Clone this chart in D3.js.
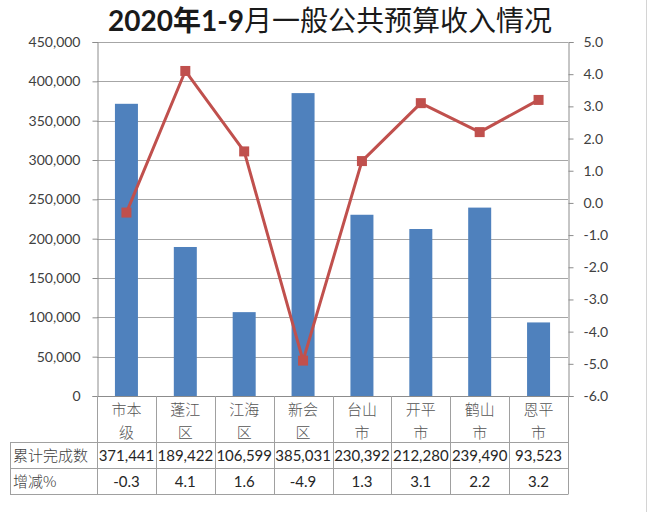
<!DOCTYPE html>
<html><head><meta charset="utf-8">
<script src="https://cdn.jsdelivr.net/npm/d3@7"></script>
<style>
body{margin:0;background:#fff;}
svg{display:block;font-family:Lato,"Noto Sans CJK SC",sans-serif;}
</style></head>
<body><svg id="c" width="650" height="512"></svg>
<script>
const categories = ["市本级","蓬江区","江海区","新会区","台山市","开平市","鹤山市","恩平市"];
const categoryLines = [["市本","级"],["蓬江","区"],["江海","区"],["新会","区"],["台山","市"],["开平","市"],["鹤山","市"],["恩平","市"]];
const revenue = [371441,189422,106599,385031,230392,212280,239490,93523];
const growth = [-0.3,4.1,1.6,-4.9,1.3,3.1,2.2,3.2];
const leftTicks = [0,50000,100000,150000,200000,250000,300000,350000,400000,450000];
const rightTicks = [-6,-5,-4,-3,-2,-1,0,1,2,3,4,5];
const rowLabels = ["累计完成数","增减%"];
const title = ["2020年1-9","月一般公共预算收入情况"];

const svg = d3.select("#c");
const L = 97, R = 568, T = 42, B = 396;
const x = d3.scaleBand().domain(categories).range([L, R]);
const y = d3.scaleLinear().domain([0, 450000]).range([B, T]);
const y2 = d3.scaleLinear().domain([-6, 5]).range([B, T]);
const grid = "#a6a6a6", axisC = "#8c8c8c", txt = "#404040";
const f1 = d => d3.format(".1f")(d).replace("\u2212","-");

// right frame line
svg.append("line").attr("x1",646.5).attr("x2",646.5).attr("y1",0).attr("y2",512).attr("stroke","#d4d4d4");

// title
const tt = svg.append("text").attr("x",330).attr("y",31).attr("text-anchor","middle")
  .attr("font-size",28).attr("fill","#1a1a1a");
tt.append("tspan").attr("font-weight","bold").text(title[0]);
tt.append("tspan").attr("font-weight","normal").text(title[1]);

// gridlines
svg.append("g").selectAll("line").data(leftTicks.filter(d=>d>0)).join("line")
  .attr("x1",L).attr("x2",R).attr("y1",d=>Math.round(y(d))+0.5).attr("y2",d=>Math.round(y(d))+0.5)
  .attr("stroke",grid).attr("stroke-width",1);

// left axis
const la = svg.append("g").attr("transform",`translate(${L+0.5},0)`)
  .call(d3.axisLeft(y).tickValues(leftTicks).tickFormat(d3.format(",")).tickSize(5).tickPadding(12));
la.select(".domain").attr("stroke",axisC);
la.selectAll(".tick line").attr("stroke",axisC);
la.selectAll("text").attr("font-size",14).attr("fill",txt).attr("font-family","Lato,sans-serif");

// right axis
const ra = svg.append("g").attr("transform",`translate(${R+0.5},0)`)
  .call(d3.axisRight(y2).tickValues(rightTicks).tickFormat(f1).tickSize(5).tickPadding(10));
ra.select(".domain").attr("stroke",axisC);
ra.selectAll(".tick line").attr("stroke",axisC);
ra.selectAll("text").attr("font-size",14).attr("fill",txt).attr("font-family","Lato,sans-serif");

// bars
const bw = 23;
svg.append("g").selectAll("rect").data(revenue).join("rect")
  .attr("x",(d,i)=>x(categories[i])+x.bandwidth()/2-bw/2)
  .attr("width",bw)
  .attr("y",d=>y(d)).attr("height",d=>B-y(d))
  .attr("fill","#4f81bd");

// zero axis line
svg.append("line").attr("x1",L-4).attr("x2",R+5).attr("y1",B+0.5).attr("y2",B+0.5).attr("stroke",axisC);

// line
const line = d3.line().x((d,i)=>x(categories[i])+x.bandwidth()/2).y(d=>y2(d));
svg.append("path").datum(growth).attr("d",line).attr("fill","none")
  .attr("stroke","#c0504d").attr("stroke-width",3).attr("stroke-linejoin","round");
svg.append("g").selectAll("rect").data(growth).join("rect")
  .attr("x",(d,i)=>x(categories[i])+x.bandwidth()/2-5)
  .attr("y",d=>y2(d)-5).attr("width",10).attr("height",10)
  .attr("fill","#c0504d");

// table
const tb = svg.append("g");
const r0 = B, r1 = 442, r2 = 468, r3 = 494, TL = 10;
const tc = "#a0a0a0";
[r1, r2, r3].forEach(yy=>{
  tb.append("line").attr("x1",TL).attr("x2",R).attr("y1",yy+0.5).attr("y2",yy+0.5).attr("stroke",tc);
});
tb.append("line").attr("x1",TL+0.5).attr("x2",TL+0.5).attr("y1",r1).attr("y2",r3+0.5).attr("stroke",tc);
const xs = categories.map(c=>x(c)).concat([R]);
xs.forEach(xx=>{
  tb.append("line").attr("x1",Math.round(xx)+0.5).attr("x2",Math.round(xx)+0.5).attr("y1",r0).attr("y2",r3+0.5).attr("stroke",tc);
});
categoryLines.forEach((ls,i)=>{
  const cx = x(categories[i])+x.bandwidth()/2;
  ls.forEach((s,j)=>{
    tb.append("text").attr("x",cx).attr("y",415+j*23).attr("text-anchor","middle")
      .attr("font-size",15).attr("fill","#555").attr("font-family","'Noto Sans CJK SC',sans-serif")
      .attr("font-weight",300).text(s);
  });
});
rowLabels.forEach((s,j)=>{
  tb.append("text").attr("x",13).attr("y",[461,487][j]).attr("font-size",15)
    .attr("fill","#404040").attr("font-family","'Noto Sans CJK SC',sans-serif").attr("font-weight",300).text(s);
});
revenue.forEach((v,i)=>{
  tb.append("text").attr("x",x(categories[i])+x.bandwidth()/2).attr("y",461).attr("text-anchor","middle")
    .attr("font-size",15).attr("fill","#262626").text(d3.format(",")(v));
});
growth.forEach((v,i)=>{
  tb.append("text").attr("x",x(categories[i])+x.bandwidth()/2).attr("y",487).attr("text-anchor","middle")
    .attr("font-size",15).attr("fill","#262626").text(f1(v));
});
</script></body></html>
